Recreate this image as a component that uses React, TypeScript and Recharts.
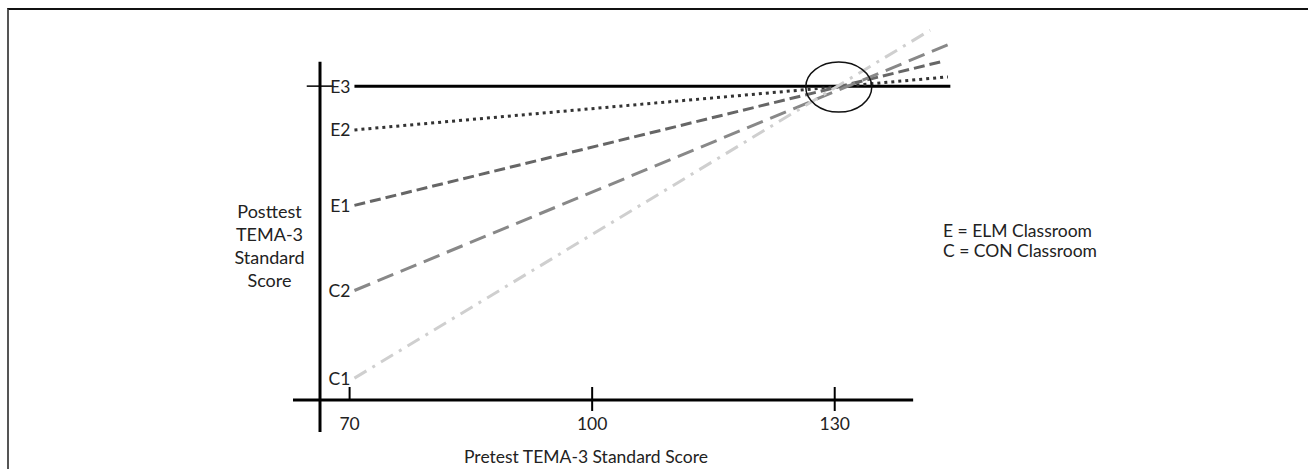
import React from "react";
import {
  LineChart,
  Line,
  XAxis,
  YAxis,
  ReferenceLine,
  ReferenceDot,
} from "recharts";

// regression lines, pretest (x) vs posttest (y)
const seriesNames = ["E3", "E2", "E1", "C2", "C1"];
const startX = [70.6, 70.6, 70.6, 70.6, 70.6];
const startY = [130, 121, 105.5, 88, 70];
const endX = [144.3, 144, 143.6, 144, 141.8];
const endY = [130, 131.9, 135.2, 138.5, 141.5];

const xTicks = [70, 100, 130];
const legendLines = ["E = ELM Classroom", "C = CON Classroom"];
const yTitleLines = ["Posttest", "TEMA-3", "Standard", "Score"];
const xTitle = "Pretest TEMA-3 Standard Score";

// where the lines cross (circled)
const crossX = 130.5;
const crossY = 129.8;

const lineStyles = [
  { stroke: "#000", dash: undefined },
  { stroke: "#333", dash: "3 4" },
  { stroke: "#666", dash: "11 5" },
  { stroke: "#888", dash: "17 8" },
  { stroke: "#cfcfcf", dash: "14 7 3 7" },
];

const FONT = "Lato, 'Open Sans', sans-serif";
const FS = 17.5;
const W = 1308;
const H = 469;

const seriesData = seriesNames.map((name, i) => [
  { x: startX[i], y: startY[i] },
  { x: endX[i], y: endY[i] },
]);

const XTick = (props: any) => {
  const { x, y, payload } = props;
  const first = payload.value === xTicks[0];
  return (
    <g>
      <line x1={x} x2={x} y1={y - 13} y2={first ? y : y + 11} stroke="#000" strokeWidth={2} />
      <text x={x} y={y + 30} textAnchor="middle" fontSize={FS} fontFamily={FONT} fill="#222">
        {payload.value}
      </text>
    </g>
  );
};

const StartLabel = (name: string) => (props: any) => {
  const { x, y, index } = props;
  if (index !== 0) return null;
  return (
    <text
      x={x - 4}
      y={y}
      textAnchor="end"
      dominantBaseline="central"
      fontSize={FS}
      fontFamily={FONT}
      fill="#222"
    >
      {name}
    </text>
  );
};

export default function App() {
  return (
    <div
      style={{
        position: "fixed",
        left: 0,
        top: 0,
        width: W,
        height: H,
        overflow: "hidden",
        background: "#fff",
      }}
    >
      <div
        style={{
          position: "absolute",
          left: 7,
          top: 8,
          width: W,
          height: H,
          borderTop: "2px solid #111",
          borderLeft: "2px solid #555",
        }}
      />
      <div style={{ position: "absolute", left: 0, top: 0 }}>
        <LineChart
          width={W}
          height={H}
          margin={{ top: 18, right: 352, left: 293, bottom: 39 }}
        >
          <XAxis
            dataKey="x"
            type="number"
            domain={[63, 145]}
            ticks={xTicks}
            axisLine={false}
            tickLine={false}
            tickSize={0}
            tickMargin={0}
            height={30}
            tick={<XTick />}
            allowDataOverflow
          />
          <YAxis hide type="number" dataKey="y" domain={[65.5, 144]} allowDataOverflow />
          {/* drawn axes */}
          <ReferenceLine
            segment={[{ x: 63, y: 65.5 }, { x: 139.7, y: 65.5 }]}
            stroke="#000"
            strokeWidth={3}
            ifOverflow="visible"
          />
          <ReferenceLine
            segment={[{ x: 66.34, y: 135 }, { x: 66.34, y: 58.9 }]}
            stroke="#000"
            strokeWidth={3}
            ifOverflow="visible"
          />
          <ReferenceLine
            segment={[{ x: 64.7, y: 130 }, { x: 68, y: 130 }]}
            stroke="#000"
            strokeWidth={1.5}
            ifOverflow="visible"
          />
          {seriesNames.map((name, i) => (
            <Line
              key={name}
              data={seriesData[i]}
              dataKey="y"
              type="linear"
              stroke={lineStyles[i].stroke}
              strokeDasharray={lineStyles[i].dash}
              strokeWidth={3}
              dot={false}
              activeDot={false}
              label={StartLabel(name)}
              isAnimationActive={false}
            />
          ))}
          <ReferenceDot
            x={crossX}
            y={crossY}
            ifOverflow="visible"
            shape={(p: any) => (
              <ellipse cx={p.cx} cy={p.cy} rx={33} ry={25} fill="none" stroke="#111" strokeWidth={1.5} />
            )}
          />
        </LineChart>
      </div>
      <svg
        width={W}
        height={H}
        style={{ position: "absolute", left: 0, top: 0, pointerEvents: "none" }}
      >
        {yTitleLines.map((t, i) => (
          <text
            key={t}
            x={269.5}
            y={218 + i * 23}
            textAnchor="middle"
            fontSize={18}
            fontFamily={FONT}
            fill="#222"
          >
            {t}
          </text>
        ))}
        {legendLines.map((t, i) => (
          <text key={t} x={943} y={237 + i * 20} fontSize={FS} fontFamily={FONT} fill="#222">
            {t}
          </text>
        ))}
        <text x={586} y={463} textAnchor="middle" fontSize={FS} fontFamily={FONT} fill="#222">
          {xTitle}
        </text>
      </svg>
    </div>
  );
}
